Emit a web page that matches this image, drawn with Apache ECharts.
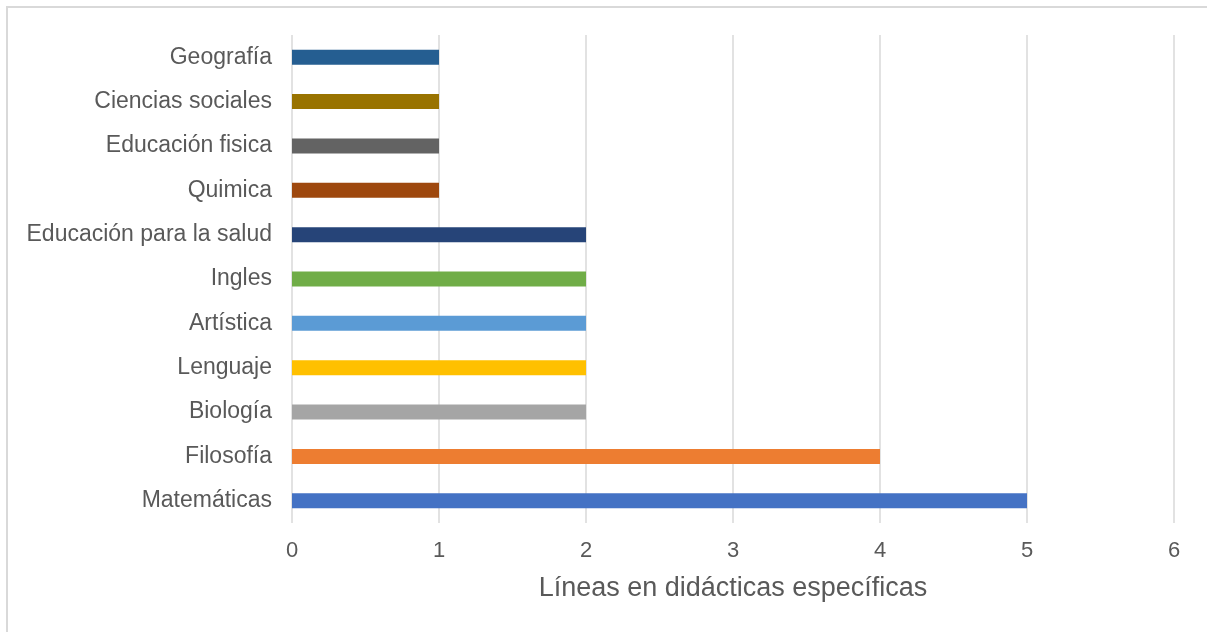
<!DOCTYPE html>
<html>
<head>
<meta charset="utf-8">
<script src="https://cdn.jsdelivr.net/npm/echarts@6/dist/echarts.min.js"></script>
<style>
html,body{margin:0;padding:0;background:#fff;overflow:hidden;}
#frame{position:absolute;left:6px;top:6px;width:1300px;height:700px;border:2px solid #d9d9d9;box-sizing:border-box;}
#chart{position:absolute;left:0;top:0;width:1207px;height:632px;}
</style>
</head>
<body>
<div id="frame"></div>
<div id="chart"></div>
<script>
const categories = ["Matemáticas","Filosofía","Biología","Lenguaje","Artística","Ingles","Educación para la salud","Quimica","Educación fisica","Ciencias sociales","Geografía"];
const values = [5,4,2,2,2,2,2,1,1,1,1];
const colors = ["#4472C4","#ED7D31","#A5A5A5","#FFC000","#5B9BD5","#70AD47","#264478","#9E480E","#636363","#997300","#255E91"];
const xTicks = [0,1,2,3,4,5,6];
const axisTitle = "Líneas en didácticas específicas";

const chart = echarts.init(document.getElementById('chart'), null, {renderer:'canvas'});
chart.setOption({
  backgroundColor: 'transparent',
  animation: false,
  grid: {left: 292, right: 33, top: 35, bottom: 109, containLabel: false},
  xAxis: {
    type: 'value', min: xTicks[0], max: xTicks[xTicks.length-1], interval: 1,
    name: axisTitle, nameLocation: 'middle', nameGap: 52,
    nameTextStyle: {fontFamily: 'Liberation Sans', fontSize: 27, color: '#595959'},
    axisLine: {show: false}, axisTick: {show: false},
    axisLabel: {fontFamily: 'Liberation Sans', fontSize: 22, color: '#595959', margin: 17},
    splitLine: {show: true, lineStyle: {color: '#d9d9d9', width: 1.5}}
  },
  yAxis: {
    type: 'category', data: categories,
    axisLine: {show: false}, axisTick: {show: false},
    axisLabel: {fontFamily: 'Liberation Sans', fontSize: 23, color: '#595959', margin: 20}
  },
  series: [{
    type: 'bar',
    barWidth: 15,
    data: values.map((v, i) => ({value: v, itemStyle: {color: colors[i]}}))
  }]
});
</script>
</body>
</html>
